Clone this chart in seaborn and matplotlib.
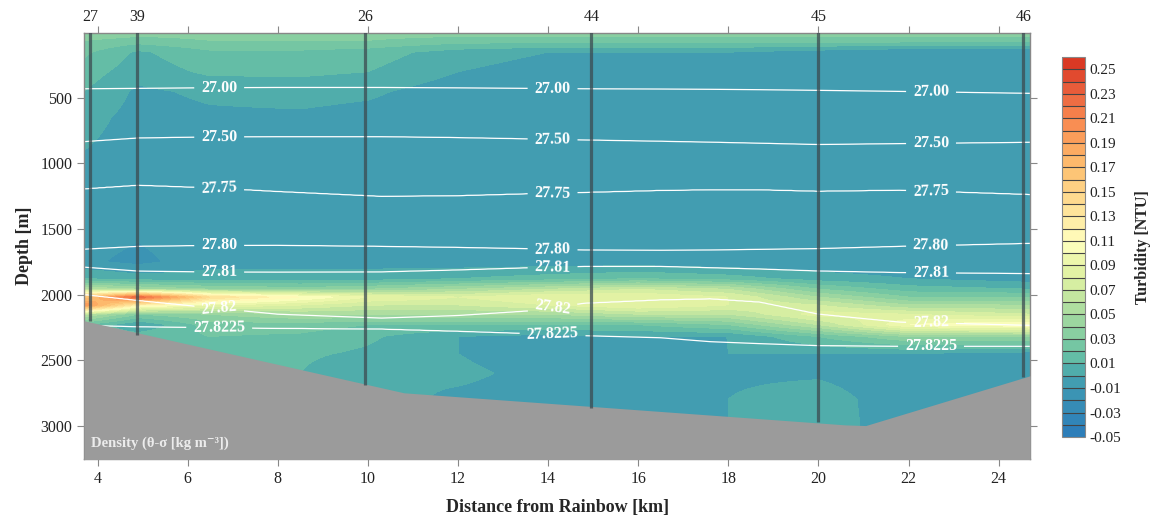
import numpy as np
import matplotlib
matplotlib.use("Agg")
import matplotlib.pyplot as plt
import seaborn as sns
from matplotlib.colors import LinearSegmentedColormap

# turbidity profiles [NTU]: rows = depth, columns = distance
turb_dist = [3.7, 4.9, 6.5, 8.5, 10.0, 12.0, 14.0, 16.0, 18.0, 20.0, 22.0, 24.7]
turb_depth = [0, 60, 150, 300, 450, 650, 900, 1200, 1500, 1750, 1880, 1960,
              2020, 2080, 2150, 2230, 2320, 2450, 2600, 2800, 3300]
turb_rows = [
    [0.040, 0.035, 0.035, 0.035, 0.035, 0.035, 0.035, 0.035, 0.035, 0.035, 0.035, 0.035],
    [0.030, 0.025, 0.030, 0.030, 0.030, 0.025, 0.025, 0.025, 0.025, 0.025, 0.025, 0.025],
    [0.022, 0.008, 0.018, 0.018, 0.015, 0.005, 0.000, 0.000, 0.000, -0.005, -0.010, -0.010],
    [0.015, 0.004, 0.012, 0.012, 0.010, 0.000, -0.005, -0.005, -0.005, -0.005, -0.005, -0.005],
    [0.010, -0.002, 0.002, 0.004, 0.002, -0.006, -0.008, -0.008, -0.007, -0.007, -0.007, -0.007],
    [0.004, -0.004, -0.002, -0.002, -0.004, -0.007, -0.008, -0.008, -0.008, -0.008, -0.008, -0.008],
    [0.000, -0.005, -0.003, -0.003, -0.005, -0.008, -0.008, -0.008, -0.008, -0.008, -0.008, -0.008],
    [-0.003, -0.005, -0.003, -0.003, -0.005, -0.007, -0.008, -0.008, -0.008, -0.008, -0.008, -0.008],
    [-0.005, -0.008, -0.003, -0.003, -0.005, -0.007, -0.007, -0.008, -0.008, -0.008, -0.008, -0.008],
    [-0.008, -0.013, -0.004, -0.004, -0.004, -0.006, -0.006, -0.006, -0.008, -0.008, -0.008, -0.009],
    [0.010, 0.005, 0.005, 0.005, 0.005, 0.010, 0.015, 0.020, 0.015, 0.005, 0.000, -0.005],
    [0.060, 0.050, 0.040, 0.035, 0.040, 0.050, 0.060, 0.070, 0.060, 0.030, 0.015, 0.010],
    [0.160, 0.230, 0.140, 0.110, 0.090, 0.080, 0.090, 0.090, 0.080, 0.050, 0.030, 0.030],
    [0.200, 0.120, 0.090, 0.080, 0.070, 0.070, 0.080, 0.090, 0.080, 0.070, 0.050, 0.050],
    [0.060, 0.030, 0.040, 0.050, 0.050, 0.050, 0.050, 0.060, 0.060, 0.085, 0.080, 0.070],
    [0.020, 0.000, 0.025, 0.025, 0.020, 0.020, 0.020, 0.020, 0.030, 0.060, 0.100, 0.110],
    [0.015, 0.015, 0.020, 0.018, 0.012, 0.000, -0.004, 0.000, 0.000, 0.020, 0.040, 0.040],
    [0.015, 0.015, 0.016, 0.012, 0.008, 0.000, -0.006, -0.004, 0.000, 0.000, 0.000, -0.004],
    [0.015, 0.015, 0.015, 0.010, 0.000, 0.002, -0.003, -0.002, -0.002, -0.002, -0.008, -0.008],
    [0.015, 0.015, 0.015, 0.010, 0.004, -0.002, -0.004, -0.004, 0.000, 0.006, -0.008, -0.008],
    [0.015, 0.015, 0.015, 0.010, 0.004, -0.002, -0.004, -0.004, 0.000, 0.008, -0.008, -0.008],
]

# isopycnal depths [m] along the section
iso_x = [3.7, 4.9, 6.5, 8.0, 10.3, 12.0, 13.6, 14.8, 16.5, 17.6, 18.7, 20.0, 21.8, 24.7]
iso_levels = [27.00, 27.50, 27.75, 27.80, 27.81, 27.82, 27.8225]
iso_labels = ["27.00", "27.50", "27.75", "27.80", "27.81", "27.82", "27.8225"]
iso_2700 = [430, 427, 422, 420, 420, 423, 427, 430, 432, 434, 437, 442, 450, 465]
iso_2750 = [833, 805, 797, 795, 795, 802, 812, 820, 830, 837, 845, 855, 848, 838]
iso_2775 = [1193, 1165, 1185, 1213, 1250, 1245, 1230, 1220, 1205, 1200, 1200, 1211, 1203, 1236]
iso_2780 = [1654, 1632, 1625, 1624, 1632, 1640, 1650, 1660, 1662, 1660, 1655, 1649, 1632, 1609]
iso_2781 = [1791, 1821, 1828, 1829, 1827, 1812, 1795, 1785, 1785, 1795, 1805, 1820, 1832, 1840]
iso_2782 = [2000, 2045, 2100, 2150, 2180, 2160, 2124, 2066, 2040, 2032, 2057, 2149, 2210, 2235]
iso_278225 = [2235, 2246, 2252, 2258, 2263, 2280, 2298, 2314, 2330, 2360, 2375, 2390, 2395, 2395]

# bathymetry
bathy_x = [3.7, 10.8, 20.6, 21.05, 24.7]
bathy_z = [2200, 2750, 2995, 3000, 2620]

# CTD stations
station_names = ["27", "39", "26", "44", "45", "46"]
station_x = [3.84, 4.88, 9.94, 14.96, 20.0, 24.55]
station_depth = [2200, 2306, 2690, 2865, 2973, 2626]

sns.set_theme(style="ticks")
plt.rcParams["font.family"] = ["Liberation Serif", "DejaVu Serif"]

# colour scale
cmap_vals = [-0.05, -0.02, 0.0, 0.01, 0.03, 0.05, 0.07, 0.09, 0.11, 0.13, 0.15,
             0.17, 0.19, 0.21, 0.23, 0.26]
cmap_cols = ["#2b7bba", "#3890b5", "#46a2af", "#5cb9a7", "#7fcba1", "#a6daa0",
             "#cfeba0", "#e8f5a6", "#ffffc0", "#fee9a0", "#fed68a", "#fdc070",
             "#fca55e", "#f8874f", "#ec6640", "#d7301f"]
lo, hi = cmap_vals[0], cmap_vals[-1]
cmap = LinearSegmentedColormap.from_list(
    "turb", [((v - lo) / (hi - lo), c) for v, c in zip(cmap_vals, cmap_cols)])
levels = np.round(np.arange(-0.05, 0.2601, 0.01), 3)

# gridding
xi = np.linspace(3.7, 24.7, 500)
zi = np.linspace(0, 3300, 800)
turb = np.array(turb_rows)
cols = np.column_stack([np.interp(zi, turb_depth, turb[:, j]) for j in range(len(turb_dist))])
turb_grid = np.vstack([np.interp(xi, turb_dist, row) for row in cols])

iso_all = np.array([iso_2700, iso_2750, iso_2775, iso_2780, iso_2781, iso_2782, iso_278225])
iso_on_x = np.vstack([np.interp(xi, iso_x, r) for r in iso_all])
dens_grid = np.column_stack([
    np.interp(zi, np.r_[0, iso_on_x[:, k], 3300], np.r_[26.5, iso_levels, 27.83])
    for k in range(len(xi))])

fig = plt.figure(figsize=(11.51, 5.17), dpi=100)
ax = fig.add_axes([0.073, 0.112, 0.822, 0.824])
cax = fig.add_axes([0.9227, 0.1547, 0.020, 0.735])

cf = ax.contourf(xi, zi, np.clip(turb_grid, -0.0499, 0.2599), levels=levels, cmap=cmap, zorder=1)

cs = ax.contour(xi, zi, dens_grid, levels=iso_levels, colors="white", linewidths=0.9, zorder=2)
label_x = [6.7, 14.1, 22.5]
manual = []
for r in iso_all:
    for lx in label_x:
        manual.append((lx, float(np.interp(lx, iso_x, r))))
texts = ax.clabel(cs, iso_levels, manual=manual, inline=True, inline_spacing=7,
                  fmt=dict(zip(iso_levels, iso_labels)), fontsize=11.5, colors="white")
for t in texts:
    t.set_fontweight("bold")

ax.fill_between(bathy_x, bathy_z, 3400, color="#9b9b9b", lw=0, zorder=3)

for sx, sd in zip(station_x, station_depth):
    ax.plot([sx, sx], [0, sd], color="#3c4a50", alpha=0.75, lw=2.3, zorder=4,
            solid_capstyle="butt")

ax.text(3.85, 3190, "Density (θ-σ [kg m⁻³])", color="#ececec", fontsize=10.5,
        fontweight="bold", zorder=5, va="bottom")

ax.set_xlim(3.7, 24.7)
ax.set_ylim(3256, 5)
ax.set_xticks([4, 6, 8, 10, 12, 14, 16, 18, 20, 22, 24])
ax.set_yticks([500, 1000, 1500, 2000, 2500, 3000])
ax.tick_params(axis="both", direction="out", length=5, width=0.8, color="#888888",
               labelsize=11.5, labelcolor="#222222", top=True, right=True)
for sp in ax.spines.values():
    sp.set_color("#888888")
    sp.set_linewidth(1.0)
ax.set_xlabel("Distance from Rainbow [km]", fontsize=13, fontweight="bold", labelpad=9)
ax.set_ylabel("Depth [m]", fontsize=13, fontweight="bold", labelpad=5)

sec = ax.secondary_xaxis("top")
sec.set_xticks(station_x, labels=station_names)
sec.tick_params(length=0, labelsize=11.5, labelcolor="#222222", pad=6)
sec.spines["top"].set_visible(False)

cb = fig.colorbar(cf, cax=cax, drawedges=True)
cb.set_ticks(np.round(np.arange(-0.05, 0.251, 0.02), 2))
cb.set_ticklabels([f"{v:.2f}" for v in np.arange(-0.05, 0.251, 0.02)])
cb.ax.tick_params(length=0, labelsize=11, labelcolor="#222222", pad=3)
cb.dividers.set_color("#444444")
cb.dividers.set_linewidth(0.8)
cb.outline.set_edgecolor("#888888")
cb.outline.set_linewidth(0.8)
cb.set_label("Turbidity [NTU]", fontsize=11.5, fontweight="bold", labelpad=10)

fig.savefig("out.png", dpi=100)
